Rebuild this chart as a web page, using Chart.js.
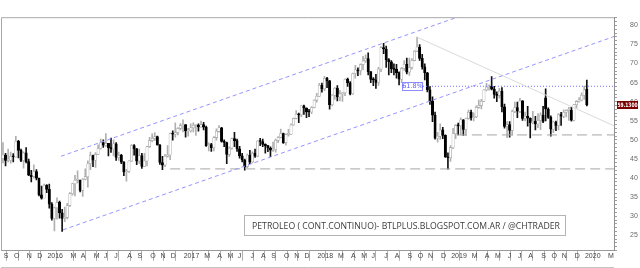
<!DOCTYPE html>
<html><head><meta charset="utf-8">
<script src="https://cdn.jsdelivr.net/npm/chart.js@4.4.1/dist/chart.umd.min.js"></script>
<style>html,body{margin:0;padding:0;background:#fff}canvas{display:block}</style>
</head><body>
<canvas id="c" width="640" height="268"></canvas>
<script>
// ---- DATA (weekly WTI continuous contract) ----
const firstWeek = '2015-09-04';
const opens = [
45.2,46.05,44.63,44.68,45.70,45.54,49.63,47.26,44.60,46.59,44.29,40.74,40.39,41.71,39.97,35.62,34.73,38.10,
37.04,33.16,29.42,32.19,33.62,30.89,29.44,29.64,32.78,35.92,38.50,39.44,39.46,36.79,39.72,40.36,43.73,45.92,44.66,46.21,47.75,49.33,48.62,49.07,47.98,47.64,48.99,45.41,45.95,44.19,41.60,41.80,44.49,48.52,47.64,44.44,45.88,43.03,44.48,48.24,49.81,50.35,50.85,48.70,44.07,43.41,45.69,46.06,51.68,51.50,51.90,53.02,
53.72,53.99,52.37,52.42,53.17,53.83,53.86,53.40,53.99,53.33,48.49,48.78,47.97,50.60,52.24,53.18,49.62,49.33,46.22,47.84,50.33,49.80,47.66,45.83,44.74,43.01,46.04,44.23,46.54,45.77,49.71,49.58,48.82,48.51,47.87,47.29,47.48,49.89,50.66,51.67,49.29,51.45,51.47,53.90,55.64,56.74,56.55,58.95,58.36,57.36,57.30,58.47,
60.42,61.44,64.30,63.37,66.14,65.45,59.20,61.68,63.55,61.25,62.04,62.34,65.88,64.94,62.06,67.39,68.38,68.10,69.72,70.70,71.28,67.88,65.81,65.74,65.06,68.58,74.15,73.80,71.01,70.46,68.69,68.49,67.63,65.91,68.72,69.80,67.75,68.99,70.78,73.25,74.34,71.34,69.12,67.59,63.14,60.19,56.46,50.42,50.93,52.61,51.20,45.59,
45.33,47.96,51.59,53.80,53.69,55.26,52.72,55.59,57.26,55.80,56.07,58.52,59.04,60.14,63.08,63.89,64.00,63.30,61.94,61.66,62.76,58.63,53.50,53.99,52.51,57.43,58.47,57.51,60.21,55.63,56.20,55.66,54.50,54.87,54.17,55.10,56.52,61.00,58.09,55.91,52.81,54.70,53.78,56.66,56.20,57.24,57.72,57.77,55.17,59.20,60.07,60.44,
61.72,63.30];
const highs = [
49.3,46.5,47.6,46.8,46.4,50.92,49.9,47.6,46.9,48.0,45.0,42.0,43.5,42.2,40.0,37.9,38.4,38.3,
38.4,33.6,32.4,34.8,34.0,31.8,32.4,33.4,36.2,38.6,40.7,41.9,39.5,39.9,42.4,44.5,46.8,46.0,46.7,48.7,50.2,50.0,51.67,49.1,50.5,50.0,49.3,46.8,46.2,44.3,42.3,44.5,48.75,48.8,47.8,47.6,46.5,46.5,48.3,50.7,51.6,51.9,51.0,48.8,45.7,46.2,48.5,51.8,52.4,54.5,53.2,54.3,
55.24,54.0,53.0,54.2,54.5,54.0,54.2,54.94,54.6,53.6,49.2,49.1,50.9,52.9,53.76,53.3,50.0,49.4,48.2,50.5,52.0,50.2,48.3,46.5,45.0,46.3,47.3,46.9,47.6,49.8,50.4,50.2,49.0,48.6,48.2,49.4,50.2,50.9,52.86,51.8,51.6,52.8,54.2,55.7,57.69,57.0,59.0,59.1,58.4,58.0,58.7,60.5,
62.2,64.8,64.9,66.66,66.4,65.6,61.9,63.7,64.2,62.9,62.4,66.0,66.2,65.3,67.5,69.56,68.9,69.9,71.89,72.3,72.8,67.9,66.3,67.2,69.0,74.46,75.27,74.6,71.3,70.8,69.9,69.8,67.8,69.0,70.8,71.4,71.4,71.3,73.4,76.90,75.0,72.4,69.9,67.7,64.0,61.3,57.3,52.0,54.2,53.3,51.3,46.6,
48.5,53.0,54.0,54.4,55.8,55.3,55.7,57.8,57.8,57.1,58.9,60.4,60.6,63.2,64.8,64.4,66.6,64.0,62.6,63.5,63.7,59.4,54.8,54.8,57.8,59.9,59.9,60.9,60.3,57.3,58.8,55.8,57.5,56.2,56.9,57.1,58.8,63.38,58.4,56.3,54.9,54.9,56.9,57.2,57.9,57.9,58.5,58.5,59.3,60.3,61.1,62.3,
64.09,65.65];
const lows = [
44.0,43.2,44.2,43.9,44.2,45.5,45.3,44.3,42.58,44.0,40.6,38.99,40.0,39.5,35.3,34.5,34.8,36.2,
32.1,29.0,26.19,29.25,29.5,26.05,28.6,29.3,32.6,35.5,35.3,38.7,36.4,35.2,39.5,37.6,42.2,43.0,42.8,46.2,47.6,48.0,48.3,45.8,46.7,45.8,44.6,44.6,43.8,40.6,39.19,41.5,44.3,46.0,43.5,43.8,42.5,43.0,43.2,48.0,49.5,49.8,48.6,43.6,42.2,43.0,45.5,44.8,49.9,50.7,51.3,52.6,
52.1,50.7,51.0,52.0,52.1,51.2,52.3,53.3,52.6,48.3,47.1,47.0,47.1,49.9,52.0,49.4,48.2,43.8,45.7,47.6,48.2,47.0,45.2,44.2,42.05,42.7,43.8,44.0,45.4,45.6,48.5,48.2,46.5,46.9,45.6,47.0,46.8,49.3,50.5,49.1,48.6,51.0,51.4,53.8,55.5,54.5,56.1,56.7,55.8,56.1,56.9,58.4,
59.9,61.3,62.5,62.9,63.7,58.07,58.9,60.6,60.2,60.2,60.1,61.6,64.0,61.8,61.9,66.2,66.8,67.0,68.4,70.3,67.0,65.0,64.2,63.5,64.3,67.9,72.6,69.0,67.0,67.6,67.0,66.2,64.4,65.0,68.2,67.3,66.9,68.5,70.7,73.1,70.8,68.5,65.7,62.6,59.3,54.8,50.2,49.4,50.1,50.3,45.4,42.36,
44.35,47.7,50.3,51.3,51.3,51.2,51.2,55.4,55.2,55.0,55.8,58.3,58.1,60.0,62.8,63.0,63.1,60.9,60.0,60.9,57.3,53.1,50.6,50.7,51.2,57.1,55.8,57.1,55.1,55.0,53.6,50.5,54.2,52.6,53.2,52.7,54.5,55.0,55.6,50.99,51.9,52.4,52.6,53.8,55.8,56.0,55.1,54.9,55.0,58.3,59.9,60.2,
60.6,58.9];
const closes = [
46.05,44.63,44.68,45.70,45.54,49.63,47.26,44.60,46.59,44.29,40.74,40.39,41.71,39.97,35.62,34.73,38.10,37.04,
33.16,29.42,32.19,33.62,30.89,29.44,29.64,32.78,35.92,38.50,39.44,39.46,36.79,39.72,40.36,43.73,45.92,44.66,46.21,47.75,49.33,48.62,49.07,47.98,47.64,48.99,45.41,45.95,44.19,41.60,41.80,44.49,48.52,47.64,44.44,45.88,43.03,44.48,48.24,49.81,50.35,50.85,48.70,44.07,43.41,45.69,46.06,51.68,51.50,51.90,53.02,53.72,
53.99,52.37,52.42,53.17,53.83,53.86,53.40,53.99,53.33,48.49,48.78,47.97,50.60,52.24,53.18,49.62,49.33,46.22,47.84,50.33,49.80,47.66,45.83,44.74,43.01,46.04,44.23,46.54,45.77,49.71,49.58,48.82,48.51,47.87,47.29,47.48,49.89,50.66,51.67,49.29,51.45,51.47,53.90,55.64,56.74,56.55,58.95,58.36,57.36,57.30,58.47,60.42,
61.44,64.30,63.37,66.14,65.45,59.20,61.68,63.55,61.25,62.04,62.34,65.88,64.94,62.06,67.39,68.38,68.10,69.72,70.70,71.28,67.88,65.81,65.74,65.06,68.58,74.15,73.80,71.01,70.46,68.69,68.49,67.63,65.91,68.72,69.80,67.75,68.99,70.78,73.25,74.34,71.34,69.12,67.59,63.14,60.19,56.46,50.42,50.93,52.61,51.20,45.59,45.33,
47.96,51.59,53.80,53.69,55.26,52.72,55.59,57.26,55.80,56.07,58.52,59.04,60.14,63.08,63.89,64.00,63.30,61.94,61.66,62.76,58.63,53.50,53.99,52.51,57.43,58.47,57.51,60.21,55.63,56.20,55.66,54.50,54.87,54.17,55.10,56.52,54.85,58.09,55.91,52.81,54.70,53.78,56.66,56.20,57.24,57.72,57.77,55.17,59.20,60.07,60.44,61.72,
63.05,59.13];

const yTickValues = [25,30,35,40,45,50,55,60,65,70,75,80];
const lastPriceLabel = '59.1300';
const fibLabel = '61.8%';
// annotation lines, in (week index, price) units
const channelUpper = [{x:22.55,y:45.71},{x:240,y:97.12}];
const channelLower = [{x:23.33,y:26.43},{x:240,y:77.65}];
const trendDown   = [{x:161,y:76.9},{x:240,y:52.96}];
const supportLow  = [{x:65,y:42.4},{x:240,y:42.4}];
const supportMid  = [{x:176.5,y:51.3},{x:240,y:51.3}];
const fibLine     = [{x:163.3,y:64.05},{x:240,y:64.05}];
const titleText = 'PETROLEO ( CONT.CONTINUO)- BTLPLUS.BLOGSPOT.COM.AR / @CHTRADER';

// ---- derived ----
const X_MIN = -0.77, X_MAX = 237.57, Y_MIN = 20.95, Y_MAX = 82.14;
const DAY = 86400000, t0 = Date.parse(firstWeek + 'T00:00:00Z');
const MONTH_LETTERS = 'JFMAMJJASOND';
const monthTicks = [];
{ let prevM = null;
  for (let i = 0; i < 250; i++) {
    const d = new Date(t0 + i * 7 * DAY), m = d.getUTCMonth();
    if (m !== prevM) {
      if (m !== 1 && i - 0.5 <= X_MAX) monthTicks.push({value: i - 0.5, label: m === 0 ? String(d.getUTCFullYear()) : MONTH_LETTERS[m]});
      prevM = m;
    }
  }
}
const isUp = i => closes[i] >= opens[i];
const bodies = closes.map((c, i) => ({x: i, y: [opens[i], c]}));
const wicks = closes.map((c, i) => ({x: i, y: [lows[i], highs[i]]}));

const lineDs = (data, color, dash, w) => ({type: 'line', data, borderColor: color, borderDash: dash, borderWidth: w || 1,
  pointRadius: 0, fill: false, tension: 0, order: 0});

const overlay = {
  id: 'overlay',
  afterDatasetsDraw(chart) {
    const {ctx, chartArea: a, scales: {y}} = chart;
    ctx.save();
    // frame
    ctx.strokeStyle = '#a8a8a8'; ctx.lineWidth = 1;
    ctx.beginPath(); ctx.moveTo(a.left + 0.5, a.bottom); ctx.lineTo(a.left + 0.5, a.top + 0.5); ctx.lineTo(a.right, a.top + 0.5); ctx.stroke();
    ctx.strokeStyle = '#c4c4c4';
    ctx.beginPath(); ctx.moveTo(a.left, 267.5); ctx.lineTo(a.right, 267.5); ctx.stroke();
    // title box
    ctx.fillStyle = '#fff'; ctx.fillRect(244, 215, 321, 20);
    ctx.strokeStyle = '#b4b4b4'; ctx.strokeRect(244.5, 215.5, 321, 20);
    ctx.fillStyle = '#3c3c3c'; ctx.font = '9.5px "Open Sans"'; ctx.textBaseline = 'middle'; ctx.textAlign = 'left';
    ctx.fillText(titleText, 252, 226, 308);
    // fib label
    const fy = y.getPixelForValue(fibLine[0].y);
    ctx.fillStyle = '#fff'; ctx.fillRect(402, fy - 4, 21, 9);
    ctx.strokeStyle = '#8c8cff'; ctx.strokeRect(402.5, Math.round(fy - 4) + 0.5, 20, 8);
    ctx.fillStyle = '#5a5aff'; ctx.font = '6.5px "DejaVu Sans"'; ctx.textAlign = 'center';
    ctx.fillText(fibLabel, 412.5, Math.round(fy) + 0.5);
    // last price tag
    const py = y.getPixelForValue(closes[closes.length - 1]);
    ctx.fillStyle = '#7a0000'; ctx.fillRect(617, Math.round(py) - 4, 21, 8);
    ctx.fillStyle = '#ffffff'; ctx.font = 'bold 6px "DejaVu Sans"'; ctx.textAlign = 'center';
    ctx.fillText(lastPriceLabel, 627.5, Math.round(py) + 0.5, 20);
    ctx.restore();
  }
};

new Chart(document.getElementById('c'), {
  type: 'bar',
  data: {
    datasets: [
      lineDs(channelUpper, '#9494ff', [4, 3]),
      lineDs(channelLower, '#9494ff', [4, 3]),
      lineDs(trendDown, '#dadada', []),
      lineDs(supportLow, '#a6a6a6', [10, 5]),
      lineDs(supportMid, '#a6a6a6', [10, 5]),
      lineDs(fibLine, '#7070ff', [1, 2]),
      {type: 'bar', data: bodies, grouped: false, order: 1, barThickness: 2.4, minBarLength: 1,
        backgroundColor: c => isUp(c.dataIndex) ? '#ffffff' : '#000000',
        borderColor: c => isUp(c.dataIndex) ? '#a0a0a0' : '#000000', borderWidth: 0.6, borderSkipped: false},
      {type: 'bar', data: wicks, grouped: false, order: 2, barThickness: 1,
        backgroundColor: c => isUp(c.dataIndex) ? '#b0b0b0' : '#111111', borderWidth: 0}
    ]
  },
  options: {
    responsive: false, animation: false, devicePixelRatio: 1,
    layout: {padding: {left: 1, top: 1, right: 0, bottom: 0}},
    plugins: {legend: {display: false}, tooltip: {enabled: false}},
    scales: {
      x: {
        type: 'linear', min: X_MIN, max: X_MAX, offset: false,
        afterBuildTicks: s => { s.ticks = monthTicks.map(t => ({value: t.value})); },
        afterFit: s => { s.height = 10; },
        ticks: {autoSkip: false, maxRotation: 0, minRotation: 0, align: 'start', labelOffset: 2, padding: -9,
          font: {size: 7, family: 'Liberation Sans'}, color: '#444',
          callback: (v, i) => monthTicks[i] ? monthTicks[i].label : ''},
        grid: {drawOnChartArea: false, drawTicks: true, tickLength: 10, color: '#b0b0b0'},
        border: {display: true, color: '#9a9a9a'}
      },
      y: {
        position: 'right', min: Y_MIN, max: Y_MAX,
        afterBuildTicks: s => { const t = []; for (let v = 21; v <= 82; v++) t.push({value: v}); s.ticks = t; },
        afterFit: s => { s.width = 26; },
        ticks: {autoSkip: false, padding: 13, font: {size: 7, family: 'Liberation Sans'}, color: '#6a6a6a',
          callback: v => yTickValues.includes(v) ? String(v) : ''},
        grid: {drawOnChartArea: false, drawTicks: true, tickLength: 3, color: '#a0a0a0'},
        border: {display: true, color: '#909090'}
      }
    }
  },
  plugins: [overlay]
});
</script>
</body></html>
